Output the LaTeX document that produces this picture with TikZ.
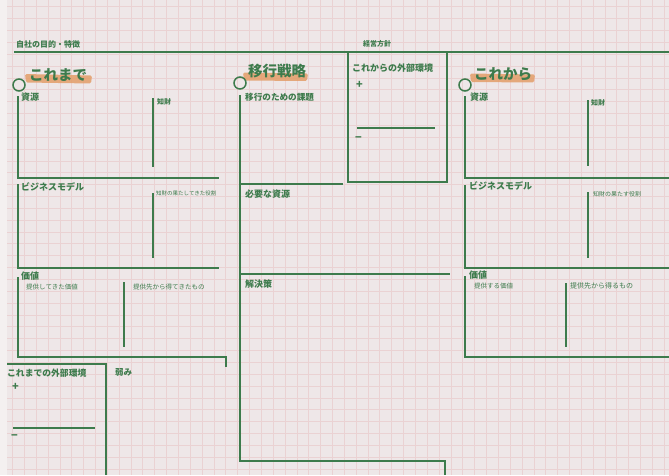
\documentclass[tikz,border=0pt]{standalone}
\usepackage{fontspec}
\setmainfont{Noto Sans CJK JP}
\definecolor{bg}{HTML}{EEE7E8}
\definecolor{edge}{HTML}{F4F0F0}
\definecolor{gridc}{HTML}{EAD2D3}
\definecolor{gr}{HTML}{3D7B4C}
\definecolor{hl}{HTML}{E39D68}
\tikzset{
  ln/.style={gr, line width=1.5pt},
  txt/.style={text=gr, anchor=west, inner sep=0pt},
  big/.style={txt, font=\bfseries\fontsize{14.5}{14.5}\selectfont},
  lab/.style={txt, font=\bfseries\fontsize{9}{9}\selectfont},
  mid/.style={txt, font=\bfseries\fontsize{8}{8}\selectfont},
  sml/.style={txt, font=\fontsize{6.5}{6.5}\selectfont},
  tiny/.style={txt, font=\fontsize{5.5}{5.5}\selectfont},
  pm/.style={txt, font=\bfseries\fontsize{11}{11}\selectfont},
  ring/.style={circle, draw=gr, line width=1.5pt, minimum size=12pt, inner sep=0pt},
  hlband/.style={fill=hl, opacity=0.85, rounded corners=1.5pt}
}
\begin{document}
\begin{tikzpicture}[x=1pt,y=-1pt]
\useasboundingbox (0,0) rectangle (669,475);
% background and grid
\fill[edge] (0,0) rectangle (669,475);
\fill[bg] (7,0) rectangle (669,475);
\foreach \x in {12.35,24.2,...,669} \draw[gridc, line width=0.5pt] (\x,0) -- (\x,475);
\foreach \y in {6.7,18.55,...,475} \draw[gridc, line width=0.5pt] (7,\y) -- (669,\y);

% top line and headings
\node[mid] (purpose) at (16,44) {自社の目的・特徴};
\node[mid, font=\bfseries\fontsize{7}{7}\selectfont] (policy) at (363,44) {経営方針};
\coordinate (tl) at (14,52);
\coordinate (tr) at (669,52);
\draw[ln] (tl) -- (tr);

% highlights
\fill[hlband] (25,74) -- (92,75.5) -- (91,83.5) -- (26,82.5) -- cycle;
\fill[hlband] (243,72.5) -- (308,73.5) -- (307,81) -- (244,80.5) -- cycle;
\fill[hlband] (470,73.5) -- (535,74.5) -- (534,82.5) -- (471,82) -- cycle;
\node[big] (past) at (29,75) {これまで};
\node[big] (trans) at (248,71.5) {移行戦略};
\node[big] (future) at (474,74.5) {これから};
\node[ring] (c1) at (19,85) {};
\node[ring] (c2) at (240,83) {};
\node[ring] (c3) at (465,85) {};

% future external environment box
\draw[ln] (348,52) -- (348,182) -- (447,182) -- (447,52);
\node[lab] (fext) at (352,68) {これからの外部環境};
\node[pm] (fplus) at (356,85) {+};
\draw[ln] (357,128) -- (435,128);
\node[pm] (fminus) at (355,139) {−};

% left column: past
\node[lab] (res1) at (21,97) {資源};
\draw[ln] (18,96) -- (18,178) -- (219,178);
\draw[ln] (153,98) -- (153,167);
\node[txt, font=\bfseries\fontsize{7}{7}\selectfont] (ip1) at (157,102) {知財};

\node[lab] (bm1) at (21,187) {ビジネスモデル};
\draw[ln] (18,184) -- (18,268) -- (219,268);
\draw[ln] (153,193) -- (153,258);
\node[tiny] (iprole1) at (156,193) {知財の果たしてきた役割};

\node[lab] (val1) at (21,276) {価値};
\draw[ln] (18,277) -- (18,357) -- (226,357) -- (226,367);
\node[sml] (pv1) at (26,287) {提供してきた価値};
\draw[ln] (124,282) -- (124,347);
\node[sml] (get1) at (133,287) {提供先から得てきたもの};

% past external environment
\draw[ln] (7,364) -- (106,364) -- (106,475);
\node[lab, font=\bfseries\fontsize{8.8}{8.8}\selectfont] (pext) at (7,373) {これまでの外部環境};
\node[pm] (pplus) at (12,387) {+};
\draw[ln] (13,428) -- (95,428);
\node[pm] (pminus) at (11,437) {−};
\node[lab, font=\bfseries\fontsize{8.5}{8.5}\selectfont] (weak) at (115,372) {弱み};

% middle column: transition
\node[lab, font=\bfseries\fontsize{8.6}{8.6}\selectfont] (issue) at (245,97) {移行のための課題};
\draw[ln] (240,95) -- (240,461) -- (445,461) -- (445,475);
\draw[ln] (240,184) -- (343,184);
\node[lab] (need) at (245,194) {必要な資源};
\draw[ln] (240,274) -- (450,274);
\node[lab] (sol) at (245,284) {解決策};

% right column: future
\node[lab] (res3) at (470,97) {資源};
\draw[ln] (465,96) -- (465,178) -- (669,178);
\draw[ln] (588,100) -- (588,166);
\node[txt, font=\bfseries\fontsize{7}{7}\selectfont] (ip3) at (591,103) {知財};

\node[lab] (bm3) at (469,186) {ビジネスモデル};
\draw[ln] (465,185) -- (465,268) -- (669,268);
\draw[ln] (588,192) -- (588,258);
\node[tiny, font=\fontsize{6}{6}\selectfont] (iprole3) at (593,194) {知財の果たす役割};

\node[lab] (val3) at (469,275) {価値};
\draw[ln] (465,276) -- (465,357) -- (669,357);
\node[sml] (pv3) at (474,286) {提供する価値};
\draw[ln] (566,283) -- (566,347);
\node[sml, font=\fontsize{7}{7}\selectfont] (get3) at (570,286) {提供先から得るもの};
\end{tikzpicture}
\end{document}
